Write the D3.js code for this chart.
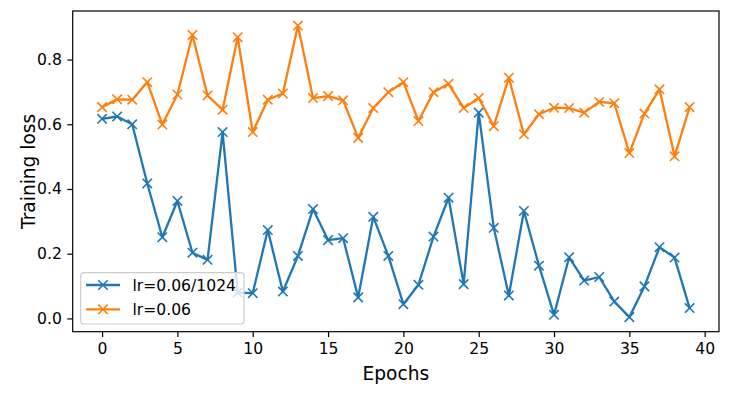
<!DOCTYPE html>
<html>
<head>
<meta charset="utf-8">
<script src="https://cdn.jsdelivr.net/npm/d3@7"></script>
<style>
  html, body { margin: 0; padding: 0; background: #fff; }
  svg { display: block; font-family: "DejaVu Sans", sans-serif; }
</style>
</head>
<body>
<svg id="chart" width="730" height="395"></svg>
<script>
const epochs = d3.range(0, 40);
const seriesNames = ["lr=0.06/1024", "lr=0.06"];
const seriesColors = ["#1f77b4", "#ff7f0e"];
const lossSmallLr = [0.617, 0.624, 0.600, 0.417, 0.251, 0.363, 0.203, 0.181, 0.576, 0.080,
                     0.078, 0.273, 0.083, 0.193, 0.338, 0.242, 0.248, 0.065, 0.314, 0.193,
                     0.044, 0.104, 0.253, 0.373, 0.106, 0.636, 0.280, 0.071, 0.332, 0.163,
                     0.011, 0.189, 0.117, 0.128, 0.052, 0.004, 0.099, 0.220, 0.188, 0.032];
const lossLargeLr = [0.653, 0.677, 0.676, 0.730, 0.599, 0.692, 0.876, 0.689, 0.645, 0.869,
                     0.576, 0.676, 0.695, 0.905, 0.681, 0.687, 0.674, 0.558, 0.650, 0.699,
                     0.730, 0.610, 0.699, 0.725, 0.650, 0.681, 0.594, 0.744, 0.569, 0.631,
                     0.651, 0.650, 0.636, 0.669, 0.665, 0.511, 0.633, 0.708, 0.501, 0.653];
const xTicks = [0, 5, 10, 15, 20, 25, 30, 35, 40];
const yTicks = [0.0, 0.2, 0.4, 0.6, 0.8];
const xLabel = "Epochs";
const yLabel = "Training loss";

const series = [lossSmallLr, lossLargeLr];

const svg = d3.select("#chart");
const L = 72.7, R = 719, T = 11, B = 331.7;

const xMin = d3.min(epochs), xMax = d3.max(epochs);
const xPad = (xMax - xMin) * 0.05;
const allY = series.flat();
const yMin = d3.min(allY), yMax = d3.max(allY);
const yPad = (yMax - yMin) * 0.05;

const x = d3.scaleLinear().domain([xMin - xPad, xMax + xPad]).range([L, R]);
const y = d3.scaleLinear().domain([yMin - yPad, yMax + yPad]).range([B, T]);

const tickFont = 15.6;

// axes
const xAxis = d3.axisBottom(x).tickValues(xTicks).tickFormat(d3.format("d")).tickSize(5.4).tickPadding(5.4);
const gx = svg.append("g").attr("transform", `translate(0,${B})`).call(xAxis);
const yAxis = d3.axisLeft(y).tickValues(yTicks).tickFormat(d3.format(".1f")).tickSize(5.4).tickPadding(5.4);
const gy = svg.append("g").attr("transform", `translate(${L},0)`).call(yAxis);
[gx, gy].forEach(g => {
  g.select(".domain").remove();
  g.selectAll(".tick line").attr("stroke", "#000").attr("stroke-width", 1.2);
  g.selectAll(".tick text").attr("fill", "#000").attr("font-size", tickFont)
    .attr("font-family", "DejaVu Sans, sans-serif");
});
gx.selectAll(".tick text").attr("dy", "0.76em");

// lines & markers
const line = d3.line().x((d, i) => x(epochs[i])).y(d => y(d));
const ms = 4.7;
series.forEach((vals, si) => {
  const g = svg.append("g");
  g.append("path").datum(vals).attr("d", line).attr("fill", "none")
    .attr("stroke", seriesColors[si]).attr("stroke-width", 2.3).attr("stroke-linejoin", "round");
  g.selectAll("path.m").data(vals).join("path").attr("class", "m")
    .attr("d", (d, i) => {
      const cx = x(epochs[i]), cy = y(d);
      return `M${cx-ms},${cy-ms}L${cx+ms},${cy+ms}M${cx-ms},${cy+ms}L${cx+ms},${cy-ms}`;
    })
    .attr("stroke", seriesColors[si]).attr("stroke-width", 1.6).attr("fill", "none");
});

// frame
svg.append("rect").attr("x", L).attr("y", T).attr("width", R - L).attr("height", B - T)
  .attr("fill", "none").attr("stroke", "#000").attr("stroke-width", 1.2);

// legend
const lg = svg.append("g");
lg.append("rect").attr("x", 80.7).attr("y", 272.7).attr("width", 163.3).attr("height", 51.3)
  .attr("rx", 3).attr("fill", "#fff").attr("fill-opacity", 0.8).attr("stroke", "#cccccc").attr("stroke-width", 1.2);
seriesNames.forEach((name, i) => {
  const ly = 285 + i * 24.3;
  lg.append("line").attr("x1", 86).attr("x2", 120).attr("y1", ly).attr("y2", ly)
    .attr("stroke", seriesColors[i]).attr("stroke-width", 2.3);
  const cx = 103;
  lg.append("path").attr("d", `M${cx-ms},${ly-ms}L${cx+ms},${ly+ms}M${cx-ms},${ly+ms}L${cx+ms},${ly-ms}`)
    .attr("stroke", seriesColors[i]).attr("stroke-width", 1.6);
  lg.append("text").attr("x", 132.5).attr("y", ly + 5.8).attr("font-size", tickFont).attr("fill", "#000").text(name);
});

// axis labels
svg.append("text").attr("x", (L + R) / 2).attr("y", 380).attr("text-anchor", "middle")
  .attr("font-size", 18.6).attr("fill", "#000").text(xLabel);
svg.append("text").attr("transform", `translate(34.5,${(T + B) / 2}) rotate(-90)`)
  .attr("text-anchor", "middle").attr("font-size", 18.6).attr("fill", "#000").text(yLabel);
</script>
</body>
</html>
